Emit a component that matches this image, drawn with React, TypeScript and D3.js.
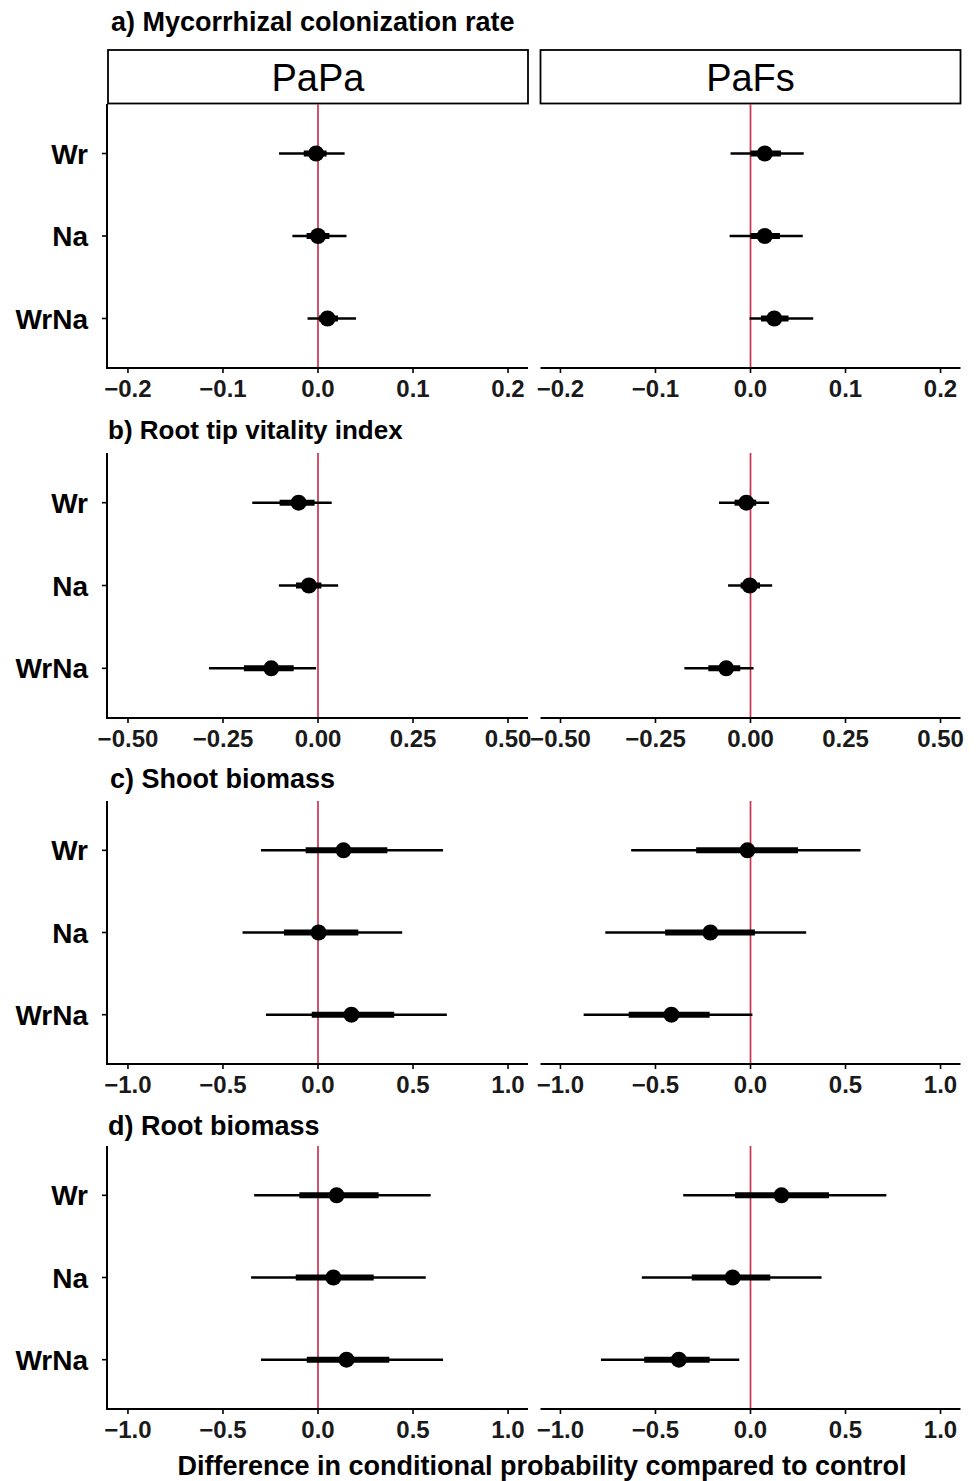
import React from "react";
import * as d3 from "d3";

// ---- data ----
const treatments = ["Wr", "Na", "WrNa"];
const species = ["PaPa", "PaFs"];
const titles = [
  "a) Mycorrhizal colonization rate",
  "b) Root tip vitality index",
  "c) Shoot biomass",
  "d) Root biomass",
];
// each row: [estimate, inner lo, inner hi, outer lo, outer hi] per treatment
const mycorrhizaPaPa = [
  [-0.002, -0.015, 0.009, -0.041, 0.028],
  [0.0, -0.012, 0.012, -0.027, 0.030],
  [0.010, 0.001, 0.021, -0.011, 0.040],
];
const mycorrhizaPaFs = [
  [0.015, 0.0, 0.032, -0.021, 0.056],
  [0.015, 0.0, 0.031, -0.022, 0.055],
  [0.025, 0.011, 0.040, -0.001, 0.066],
];
const vitalityPaPa = [
  [-0.051, -0.101, -0.009, -0.173, 0.036],
  [-0.024, -0.058, 0.009, -0.103, 0.053],
  [-0.123, -0.195, -0.064, -0.287, -0.005],
];
const vitalityPaFs = [
  [-0.011, -0.042, 0.015, -0.083, 0.049],
  [-0.002, -0.026, 0.025, -0.059, 0.057],
  [-0.064, -0.111, -0.027, -0.174, 0.008],
];
const shootPaPa = [
  [0.134, -0.065, 0.365, -0.300, 0.658],
  [0.003, -0.179, 0.212, -0.397, 0.443],
  [0.176, -0.033, 0.401, -0.274, 0.678],
];
const shootPaFs = [
  [-0.016, -0.286, 0.250, -0.628, 0.579],
  [-0.211, -0.449, 0.023, -0.764, 0.293],
  [-0.416, -0.641, -0.215, -0.878, 0.010],
];
const rootPaPa = [
  [0.098, -0.098, 0.319, -0.336, 0.593],
  [0.081, -0.117, 0.293, -0.352, 0.567],
  [0.150, -0.059, 0.375, -0.300, 0.658],
];
const rootPaFs = [
  [0.163, -0.081, 0.413, -0.354, 0.715],
  [-0.094, -0.309, 0.104, -0.572, 0.374],
  [-0.377, -0.559, -0.215, -0.787, -0.059],
];
const ticksMyc = [-0.2, -0.1, 0, 0.1, 0.2];
const ticksVit = [-0.5, -0.25, 0, 0.25, 0.5];
const ticksBio = [-1, -0.5, 0, 0.5, 1];
const xTitle = "Difference in conditional probability compared to control";

const rowsData = [
  { title: titles[0], data: [mycorrhizaPaPa, mycorrhizaPaFs], ticks: ticksMyc, half: 0.221, digits: 1 },
  { title: titles[1], data: [vitalityPaPa, vitalityPaFs], ticks: ticksVit, half: 0.5526, digits: 2 },
  { title: titles[2], data: [shootPaPa, shootPaFs], ticks: ticksBio, half: 1.105, digits: 1 },
  { title: titles[3], data: [rootPaPa, rootPaFs], ticks: ticksBio, half: 1.105, digits: 1 },
];

// ---- layout ----
const W = 978;
const H = 1481;
const FONT = "'Liberation Sans', Arial, sans-serif";
const panelX = [108, 540.5];
const panelW = 420;
const rowLayout = [
  { top: 104, bottom: 368, titleY: 31, titleX: 111, titleSize: 27 },
  { top: 453, bottom: 718, titleY: 439, titleX: 108, titleSize: 26 },
  { top: 801, bottom: 1064, titleY: 788, titleX: 110, titleSize: 27 },
  { top: 1146, bottom: 1409, titleY: 1135, titleX: 108, titleSize: 27 },
];
const RED = "#cc3352";

const fmt = (v: number, d: number) => {
  const s = Math.abs(v).toFixed(d);
  return v < 0 ? "\u2212" + s : s;
};

function Panel({ row, r, p }: { row: any; r: number; p: number }) {
  const lay = rowLayout[r];
  const x0 = panelX[p];
  const x = d3.scaleLinear().domain([-row.half, row.half]).range([x0, x0 + panelW]);
  const y = d3.scalePoint<string>().domain(treatments).range([lay.top, lay.bottom]).padding(0.6);
  const vals = row.data[p];
  return (
    <g>
      {/* zero line */}
      <line x1={x(0)} x2={x(0)} y1={lay.top} y2={lay.bottom} stroke={RED} strokeWidth={1.7} />
      {/* x axis */}
      <line x1={x0 - (p === 0 ? 1 : 0)} x2={x0 + panelW} y1={lay.bottom} y2={lay.bottom} stroke="#000" strokeWidth={2} />
      {row.ticks.map((t: number) => (
        <g key={t}>
          <line x1={x(t)} x2={x(t)} y1={lay.bottom} y2={lay.bottom + 5} stroke="#000" strokeWidth={1.6} />
          <text
            x={x(t)}
            y={lay.bottom + 29}
            textAnchor="middle"
            fontFamily={FONT}
            fontWeight="bold"
            fontSize={24}
            fill="#1a1a1a"
          >
            {fmt(t, row.digits)}
          </text>
        </g>
      ))}
      {/* y axis for left panel */}
      {p === 0 && (
        <g>
          <line x1={x0 - 1} x2={x0 - 1} y1={lay.top} y2={lay.bottom + 1} stroke="#000" strokeWidth={2} />
          {treatments.map((t) => (
            <g key={t}>
              <line x1={x0 - 6} x2={x0 - 1} y1={y(t)} y2={y(t)} stroke="#000" strokeWidth={1.6} />
              <text
                x={88}
                y={(y(t) as number) + 10}
                textAnchor="end"
                fontFamily={FONT}
                fontWeight="bold"
                fontSize={28}
                fill="#000"
              >
                {t}
              </text>
            </g>
          ))}
        </g>
      )}
      {/* intervals */}
      {treatments.map((t, i) => {
        const [est, lo1, hi1, lo2, hi2] = vals[i];
        const yy = y(t) as number;
        return (
          <g key={t}>
            <line x1={x(lo2)} x2={x(hi2)} y1={yy} y2={yy} stroke="#000" strokeWidth={2.6} />
            <line x1={x(lo1)} x2={x(hi1)} y1={yy} y2={yy} stroke="#000" strokeWidth={6} />
            <circle cx={x(est)} cy={yy} r={8} fill="#000" />
          </g>
        );
      })}
    </g>
  );
}

export default function App() {
  return (
    <div style={{ position: "absolute", left: 0, top: 0 }}>
      <svg width={W} height={H} viewBox={`0 0 ${W} ${H}`} style={{ display: "block", background: "#fff" }}>
        <rect x={0} y={0} width={W} height={H} fill="#fff" />
        {/* strips */}
        {species.map((s, p) => (
          <g key={s}>
            <rect x={panelX[p]} y={50} width={panelW} height={53.5} fill="#fff" stroke="#000" strokeWidth={1.8} />
            <text
              x={panelX[p] + panelW / 2}
              y={91}
              textAnchor="middle"
              fontFamily={FONT}
              fontSize={38}
              fill="#000"
            >
              {s}
            </text>
          </g>
        ))}
        {rowsData.map((row, r) => (
          <g key={r}>
            <text
              x={rowLayout[r].titleX}
              y={rowLayout[r].titleY}
              fontFamily={FONT}
              fontWeight="bold"
              fontSize={rowLayout[r].titleSize}
              fill="#000"
            >
              {row.title}
            </text>
            {species.map((s, p) => (
              <Panel key={s} row={row} r={r} p={p} />
            ))}
          </g>
        ))}
        <text x={542} y={1475} textAnchor="middle" fontFamily={FONT} fontWeight="bold" fontSize={27} fill="#000">
          {xTitle}
        </text>
      </svg>
    </div>
  );
}
